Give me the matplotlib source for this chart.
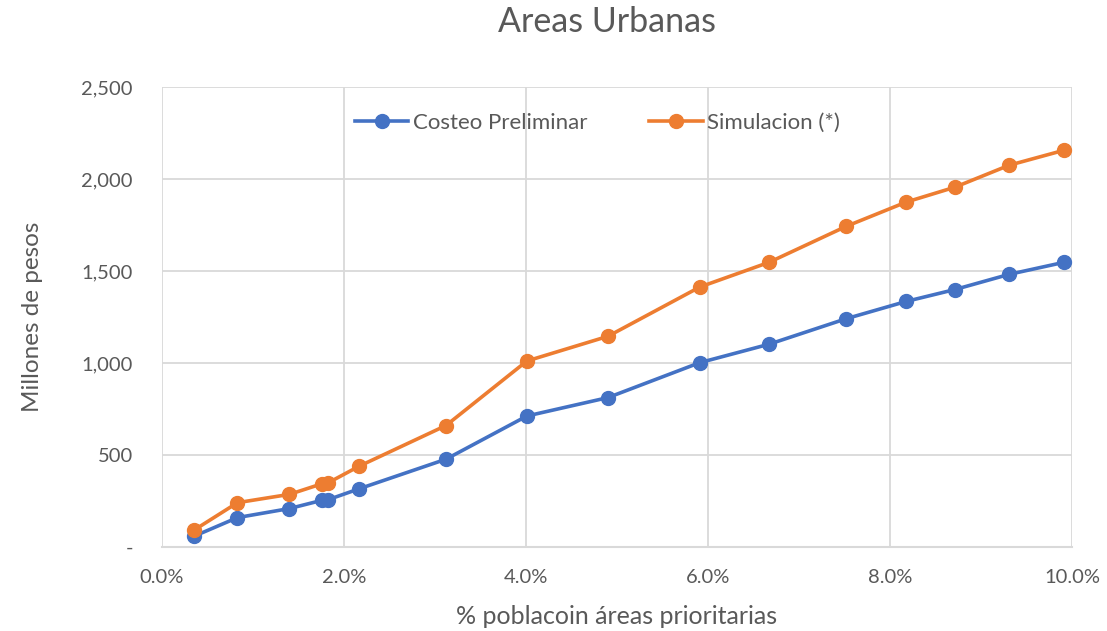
import matplotlib.pyplot as plt
from matplotlib.ticker import FuncFormatter, PercentFormatter

# % population in priority areas (x) and cost in millions of pesos (y)
pct_poblacion = [0.35, 0.83, 1.40, 1.76, 1.83, 2.17, 3.12, 4.01, 4.90, 5.91,
                 6.67, 7.52, 8.18, 8.71, 9.31, 9.91]
costeo_preliminar = [58, 160, 209, 254, 258, 317, 477, 712, 812, 1002,
                     1102, 1241, 1335, 1399, 1482, 1547]
simulacion = [91, 241, 286, 344, 350, 440, 660, 1011, 1145, 1413,
              1547, 1743, 1875, 1955, 2075, 2156]

x_ticks = [0, 2, 4, 6, 8, 10]
y_ticks = [0, 500, 1000, 1500, 2000, 2500]

plt.rcParams['font.family'] = ['Lato', 'DejaVu Sans']
text_color = '#595959'
grid_color = '#d9d9d9'

fig = plt.figure(figsize=(11.07, 6.31), dpi=100)
ax = fig.add_axes([0.1463, 0.1331, 0.8221, 0.7290])

ax.plot(pct_poblacion, costeo_preliminar, color='#4472C4', linewidth=2.6,
        marker='o', markersize=10, label='Costeo Preliminar', zorder=3)
ax.plot(pct_poblacion, simulacion, color='#ED7D31', linewidth=2.6,
        marker='o', markersize=10, label='Simulacion (*)', zorder=3)

ax.set_xlim(0, 10)
ax.set_ylim(0, 2500)
ax.set_xticks(x_ticks)
ax.set_yticks(y_ticks)
ax.xaxis.set_major_formatter(PercentFormatter(decimals=1))
ax.yaxis.set_major_formatter(FuncFormatter(lambda v, p: '-' if v == 0 else f'{int(v):,}'))

ax.grid(True, color=grid_color, linewidth=1.3, zorder=0)
ax.set_axisbelow(True)
for s in ax.spines.values():
    s.set_visible(False)
ax.axhline(0, color=grid_color, linewidth=1.5, zorder=1, clip_on=False)

ax.tick_params(axis='both', length=0, labelsize=14.5, colors=text_color)
ax.tick_params(axis='y', pad=21)
ax.tick_params(axis='x', pad=16)

ax.set_xlabel('% poblacoin áreas prioritarias', fontsize=18, color=text_color)
ax.set_ylabel('Millones de pesos', fontsize=17.5, color=text_color)
ax.xaxis.set_label_coords(0.500, -0.152)
ax.xaxis.label.set_va('center')
ax.yaxis.set_label_coords(-0.1418, 0.5)
ax.yaxis.label.set_va('center')

fig.text(0.548, 1 - 22 / 631, 'Areas Urbanas', fontsize=24.5, color=text_color,
         ha='center', va='center')

leg = ax.legend(loc='center', bbox_to_anchor=(0.4786, 0.922), ncol=2, frameon=False,
                fontsize=16, columnspacing=2.8, handlelength=2.4, handletextpad=0.2,
                labelcolor=text_color)

fig.savefig('out.png', dpi=100)
